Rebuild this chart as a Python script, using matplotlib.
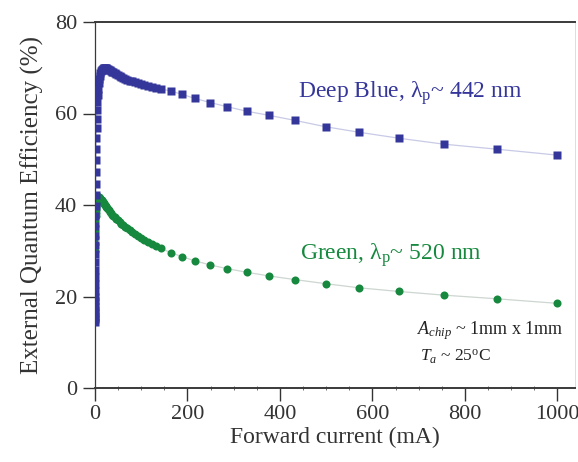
import matplotlib
matplotlib.use("Agg")
import matplotlib.pyplot as plt
from matplotlib.ticker import MultipleLocator

plt.rcParams['font.family'] = ['Liberation Serif', 'DejaVu Serif']
plt.rcParams['mathtext.fontset'] = 'custom'
plt.rcParams['mathtext.rm'] = 'Liberation Serif'
plt.rcParams['mathtext.it'] = 'Liberation Serif:italic'

# ---- data ----
current = [0.10, 0.11, 0.13, 0.15, 0.17, 0.20, 0.23, 0.26, 0.30, 0.35,
           0.40, 0.46, 0.53, 0.61, 0.70, 0.80, 0.93, 1.07, 1.2, 1.4,
           1.6, 1.9, 2.2, 2.5, 2.9, 3.3, 3.8, 4.3, 5.0, 5.7,
           6.6, 7.6, 8.7, 10, 11.5, 13.2, 14.2, 15.2, 16.3, 17.5,
           18.7, 20, 21.5, 23, 24.7, 26.5, 28.4, 30.5, 32.7, 35,
           37.5, 40, 43, 46, 49.5, 53, 57, 61, 65.5, 70,
           75, 81, 87, 93, 100, 107, 115, 123, 132, 142,
           164, 188, 216, 249, 285, 328, 376, 432, 499, 571,
           657, 754, 869, 1000]
blue_eqe = [14.5, 15.0, 15.6, 16.3, 17.0, 18.0, 19.0, 20.0, 21.3, 22.7,
            24.2, 25.8, 27.5, 29.3, 31.2, 33.2, 35.4, 37.6, 39.8, 42.2,
            44.6, 47.2, 49.8, 52.2, 54.6, 56.8, 58.9, 60.8, 62.6, 64.1,
            65.4, 66.6, 67.5, 68.3, 68.9, 69.3, 69.45, 69.6, 69.7, 69.8,
            69.85, 69.9, 69.9, 69.9, 69.85, 69.8, 69.7, 69.6, 69.45, 69.3,
            69.15, 69.0, 68.8, 68.6, 68.4, 68.2, 68.0, 67.8, 67.6, 67.4,
            67.2, 67.0, 66.8, 66.6, 66.4, 66.2, 66.0, 65.8, 65.6, 65.4,
            64.9, 64.2, 63.3, 62.4, 61.5, 60.5, 59.6, 58.5, 57.1, 55.9,
            54.6, 53.3, 52.2, 50.9]

green_current = [0.53, 0.61, 0.70, 0.80, 0.93, 1.07, 1.2, 1.4,
                 1.6, 1.9, 2.2, 2.5, 2.9, 3.3, 3.8, 4.3, 5.0, 5.7,
                 6.6, 7.6, 8.7, 10, 11.5, 13.2, 14.2, 15.2, 16.3, 17.5,
                 18.7, 20, 21.5, 23, 24.7, 26.5, 28.4, 30.5, 32.7, 35,
                 37.5, 40, 43, 46, 49.5, 53, 57, 61, 65.5, 70,
                 75, 81, 87, 93, 100, 107, 115, 123, 132, 142,
                 164, 188, 216, 249, 285, 328, 376, 432, 499, 571,
                 657, 754, 869, 1000]
green_eqe = [30.0, 31.5, 33.0, 34.3, 35.5, 36.6, 37.5, 38.3,
             39.0, 39.6, 40.1, 40.5, 40.9, 41.2, 41.4, 41.6, 41.7, 41.8,
             41.8, 41.8, 41.7, 41.6, 41.4, 41.2, 41.05, 40.9, 40.75, 40.6,
             40.4, 40.2, 40.0, 39.8, 39.55, 39.3, 39.05, 38.8, 38.5, 38.2,
             37.9, 37.6, 37.3, 37.0, 36.65, 36.3, 35.95, 35.6, 35.25, 34.9,
             34.5, 34.1, 33.7, 33.3, 32.85, 32.4, 31.95, 31.5, 31.0, 30.5,
             29.6, 28.7, 27.8, 26.9, 26.1, 25.3, 24.5, 23.7, 22.8, 21.9,
             21.1, 20.3, 19.5, 18.5]

x_ticks = [0, 200, 400, 600, 800, 1000]
y_ticks = [0, 20, 40, 60, 80]

blue_color = '#35369a'
green_color = '#17893f'

fig = plt.figure(figsize=(5.78, 4.62), dpi=100)
ax = fig.add_axes([95/578, 74/462, (575-95)/578, (388-22)/462])

ax.plot(green_current, green_eqe, '-', color='#cdd6d0', lw=0.9, zorder=1)
ax.plot(current, blue_eqe, '-', color='#c8cae6', lw=0.9, zorder=1)
ax.plot(green_current, green_eqe, 'o', color=green_color, ms=5.8, mec='none', zorder=2)
ax.plot(current, blue_eqe, 's', color=blue_color, ms=6.2, mec='none', zorder=3)

ax.set_xlim(0, 1038)
ax.set_ylim(0, 80)
ax.set_xticks(x_ticks)
ax.set_yticks(y_ticks)
ax.xaxis.set_minor_locator(MultipleLocator(50))
ax.tick_params(axis='both', which='major', direction='out', length=9, width=1.0,
               labelsize=16, colors='#333333', labelcolor='#333333')
ax.tick_params(axis='x', which='minor', direction='inout', length=3, width=0.6, colors='#555555')
ax.tick_params(axis='x', pad=3)
ax.tick_params(axis='y', pad=4)

for side in ['bottom', 'top']:
    ax.spines[side].set_linewidth(1.4)
    ax.spines[side].set_color('#3a3a3a')
ax.spines['left'].set_linewidth(0.9)
ax.spines['left'].set_color('#3a3a3a')
ax.spines['right'].set_linewidth(0.6)
ax.spines['right'].set_color('#d8d8d8')

ax.set_xlabel('Forward current (mA)', fontsize=17, color='#333333', labelpad=2)
ax.set_ylabel('External Quantum Efficiency (%)', fontsize=18, color='#333333', labelpad=8)

ax.text(439, 64.5, r'Deep Blue, λ$_\mathrm{p}$~ 442 nm', color=blue_color,
        fontsize=17, ha='left', va='center')
ax.text(443, 29.1, r'Green, λ$_\mathrm{p}$~ 520 nm', color=green_color,
        fontsize=17, ha='left', va='center')
ax.text(696, 12.5, r'$A_{chip}$ ~ 1mm x 1mm', color='#222222', fontsize=13,
        ha='left', va='center')
ax.text(703, 6.8, r'$T_{a}$ ~ 25$^\mathrm{o}$C', color='#222222', fontsize=12.5,
        ha='left', va='center')

fig.savefig('out.png', dpi=100)
